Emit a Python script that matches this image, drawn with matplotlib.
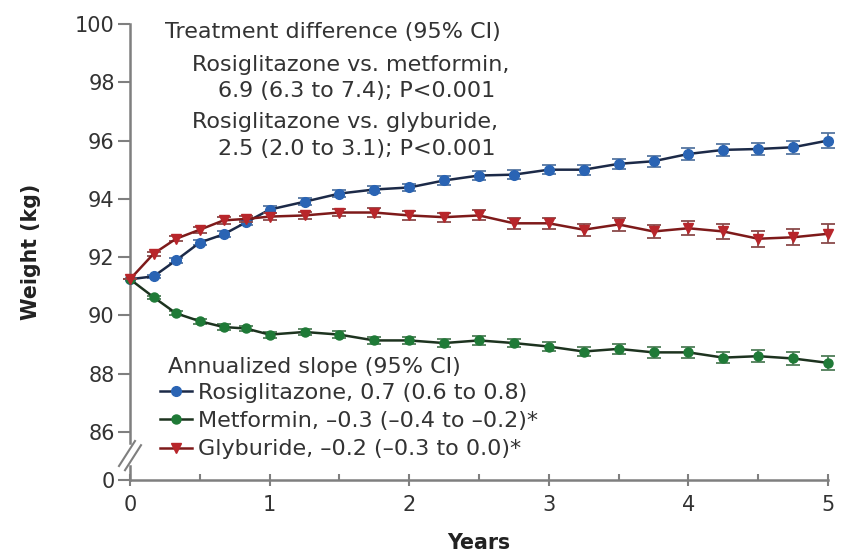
import matplotlib
matplotlib.use("Agg")
import matplotlib.pyplot as plt
from matplotlib.lines import Line2D

# time points (years) and mean weight (kg) per group
years = [0, 0.17, 0.33, 0.5, 0.67, 0.83, 1.0, 1.25, 1.5, 1.75, 2.0, 2.25,
         2.5, 2.75, 3.0, 3.25, 3.5, 3.75, 4.0, 4.25, 4.5, 4.75, 5.0]

rosi = [91.24, 91.34, 91.89, 92.50, 92.78, 93.19, 93.63, 93.90, 94.18, 94.32, 94.39, 94.63,
        94.80, 94.83, 95.00, 95.00, 95.20, 95.29, 95.54, 95.68, 95.71, 95.77, 96.00]
met = [91.24, 90.62, 90.07, 89.80, 89.60, 89.55, 89.34, 89.43, 89.34, 89.14, 89.14, 89.05,
       89.14, 89.05, 88.93, 88.76, 88.85, 88.73, 88.73, 88.55, 88.60, 88.52, 88.37]
gly = [91.24, 92.12, 92.63, 92.94, 93.26, 93.31, 93.39, 93.43, 93.53, 93.53, 93.43, 93.37,
       93.43, 93.16, 93.16, 92.94, 93.12, 92.88, 92.99, 92.88, 92.63, 92.68, 92.80]

# half width of the error bars
rosi_err = [0, 0.06, 0.08, 0.09, 0.10, 0.10, 0.11, 0.12, 0.12, 0.13, 0.13, 0.14,
            0.15, 0.15, 0.16, 0.17, 0.18, 0.19, 0.20, 0.20, 0.22, 0.22, 0.26]
met_err = [0, 0.06, 0.07, 0.08, 0.09, 0.09, 0.10, 0.11, 0.11, 0.12, 0.12, 0.13,
           0.14, 0.14, 0.15, 0.16, 0.17, 0.18, 0.18, 0.20, 0.21, 0.22, 0.25]
gly_err = [0, 0.07, 0.09, 0.10, 0.11, 0.11, 0.12, 0.13, 0.13, 0.14, 0.15, 0.16,
           0.17, 0.18, 0.19, 0.20, 0.21, 0.22, 0.24, 0.25, 0.27, 0.28, 0.32]

legend_labels = ["Rosiglitazone, 0.7 (0.6 to 0.8)",
                 "Metformin, \u20130.3 (\u20130.4 to \u20130.2)*",
                 "Glyburide, \u20130.2 (\u20130.3 to 0.0)*"]
legend_title = "Annualized slope (95% CI)"

diff_lines = ["Treatment difference (95% CI)",
              "Rosiglitazone vs. metformin,",
              "6.9 (6.3 to 7.4); P<0.001",
              "Rosiglitazone vs. glyburide,",
              "2.5 (2.0 to 3.1); P<0.001"]

ytick_vals = [86, 88, 90, 92, 94, 96, 98, 100]
zero_pos = 84.35   # where the "0" sits below the axis break

plt.rcParams['font.family'] = ['DejaVu Sans']
W, H = 844, 553
fig = plt.figure(figsize=(W / 100, H / 100), dpi=100)
ax = fig.add_axes([130 / W, 1 - 480 / H, 698 / W, 456 / H])
txt_col = '#333333'
axis_col = '#7f7f7f'


def px(x, y):
    return x / W, 1 - y / H


series = [
    (rosi, rosi_err, 'o', '#2a64b4', '#1c2a48', '#5676a0', 7),
    (met, met_err, 'o', '#1f7a37', '#1d331f', '#4f7d58', 6.5),
    (gly, gly_err, 'v', '#b8262b', '#7e1a1a', '#8a4a4a', 7.5),
]
for i in [1, 0, 2]:
    vals, err, mk, mcol, lcol, ecol, ms = series[i]
    ax.errorbar(years, vals, yerr=err, fmt='none', ecolor=ecol, elinewidth=1.3,
                capsize=4.7, capthick=1.3, clip_on=False, zorder=2 + i)
    ax.plot(years, vals, color=lcol, lw=1.8, marker=mk, ms=ms, mfc=mcol,
            mec=mcol, clip_on=False, zorder=3 + i)

ax.set_xlim(0, 5)
ax.set_ylim(zero_pos, 100)

ax.spines['top'].set_visible(False)
ax.spines['right'].set_visible(False)
for s in ['left', 'bottom']:
    ax.spines[s].set_color(axis_col)
    ax.spines[s].set_linewidth(1.8)
ax.spines['left'].set_bounds(85.62, 100)
ax.plot([0, 0], [zero_pos, 84.83], color=axis_col, lw=1.8,
        transform=ax.get_yaxis_transform(), clip_on=False, zorder=1)
# axis break marks
for dx in (0, 6):
    fig.add_artist(Line2D([px(119 + dx, 0)[0], px(135 + dx, 0)[0]],
                          [px(0, 466 + dx * 0.7)[1], px(0, 441 + dx * 0.7)[1]],
                          color=axis_col, lw=1.5))

ax.set_yticks([zero_pos] + ytick_vals)
ax.set_yticklabels(['0'] + [str(v) for v in ytick_vals])
ax.set_xticks([0, 1, 2, 3, 4, 5])
ax.set_xticks([0.5, 1.5, 2.5, 3.5, 4.5], minor=True)
ax.tick_params(axis='y', direction='out', length=9, width=1.5, color=axis_col,
               labelsize=15, labelcolor=txt_col, pad=2)
ax.tick_params(axis='x', which='major', direction='inout', length=9, width=1.5,
               color=axis_col, labelsize=15, labelcolor=txt_col, pad=6)
ax.tick_params(axis='x', which='minor', direction='in', length=4.5, width=1.5,
               color=axis_col)

fig.text(*px(479, 549), 'Years', fontsize=14.8, fontweight='bold', color='#222222',
         ha='center', va='baseline')
fig.text(*px(31, 252), 'Weight (kg)', fontsize=14.8, fontweight='bold', color='#222222',
         ha='center', va='center', rotation=90)

# treatment difference block
text_pos = [(165, 38), (192, 71), (218, 97), (192, 128), (218, 155)]
for (x, y), t in zip(text_pos, diff_lines):
    fig.text(*px(x, y), t, fontsize=16, color=txt_col, va='baseline', ha='left')

fig.text(*px(168, 373), legend_title, fontsize=16, color=txt_col, va='baseline', ha='left')
handles = [Line2D([], [], color=series[i][4], lw=1.8, marker=series[i][2],
                  ms=series[i][6], mfc=series[i][3], mec=series[i][3]) for i in range(3)]
leg = fig.legend(handles, legend_labels, loc='upper left', bbox_to_anchor=px(160, 383),
                 frameon=False, fontsize=16, borderpad=0, borderaxespad=0,
                 handlelength=1.45, handletextpad=0.25, labelspacing=0.37)
for t in leg.get_texts():
    t.set_color(txt_col)

fig.savefig('out.png', dpi=100)
